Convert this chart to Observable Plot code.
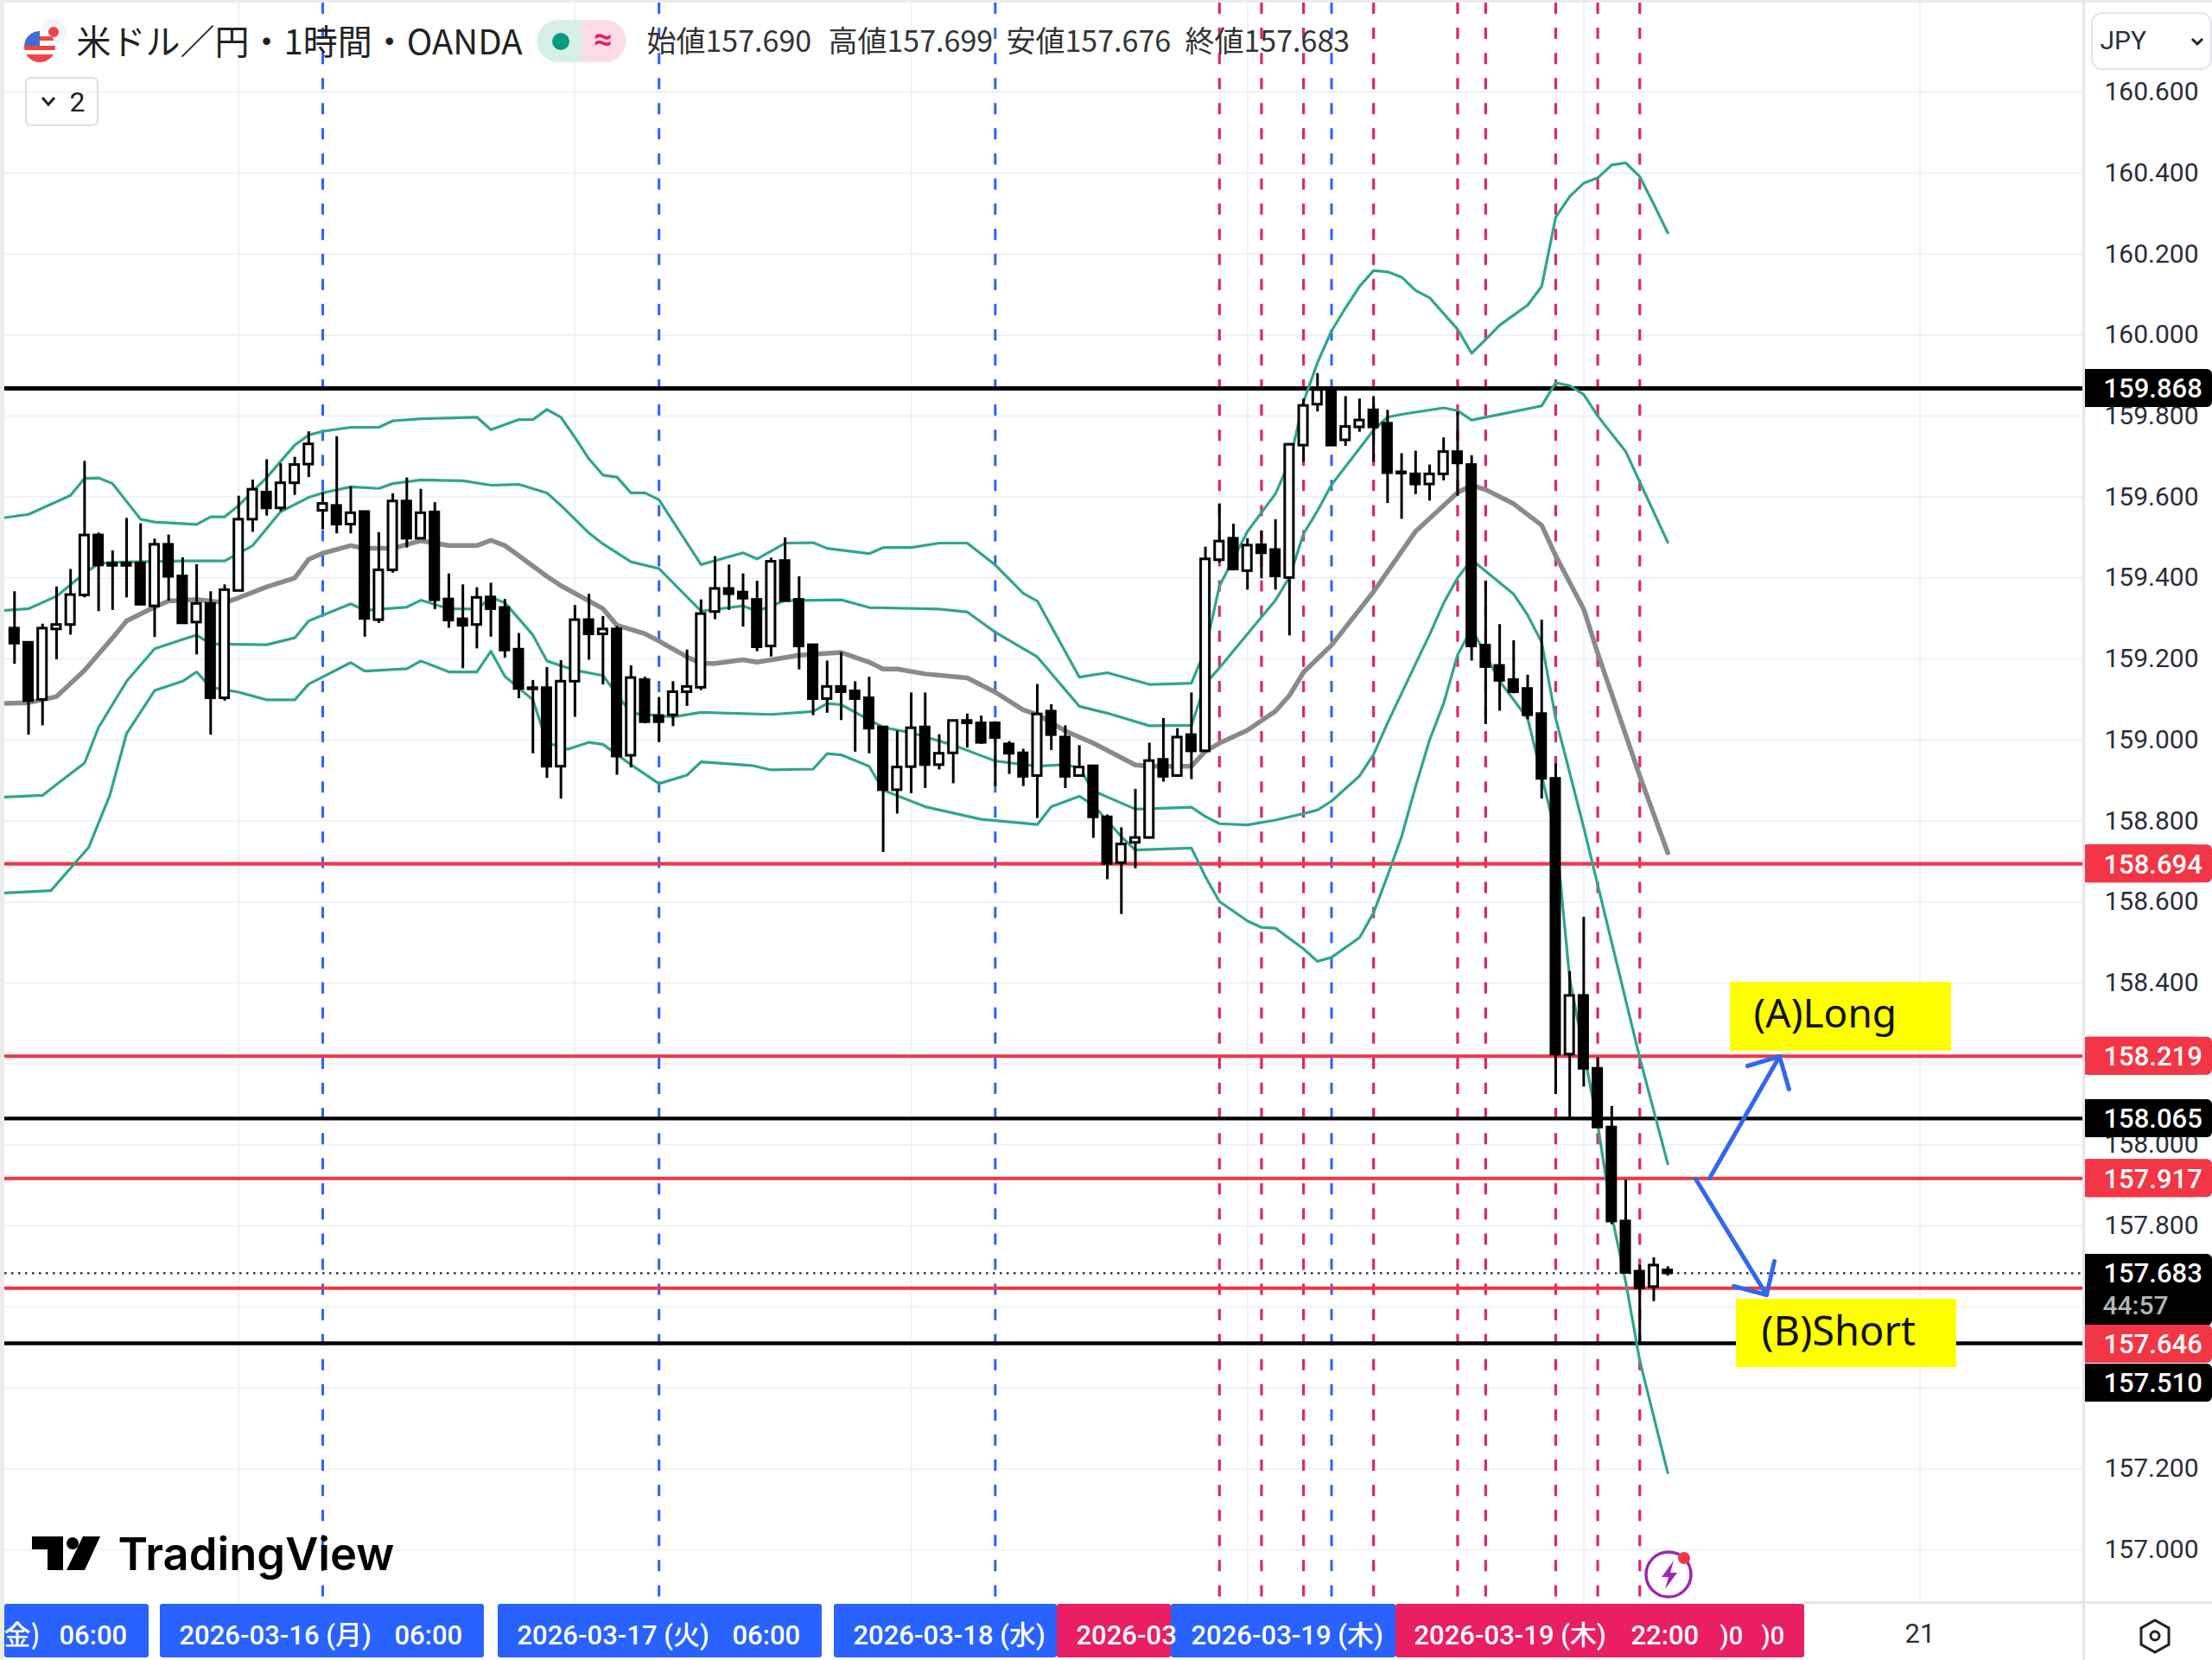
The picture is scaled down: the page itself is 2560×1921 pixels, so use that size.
<!DOCTYPE html>
<html lang="ja">
<head>
<meta charset="utf-8">
<title>米ドル／円 1時間 OANDA</title>
<script src="https://cdn.jsdelivr.net/npm/d3@7"></script>
<script src="https://cdn.jsdelivr.net/npm/@observablehq/plot@0.6"></script>
<style>
html,body{margin:0;padding:0;background:#fff}
svg{display:block}
</style>
</head>
<body>
<div id="chart"></div>
<script>
// ---------- candle values (1 hour) ----------
const open = [159.275,159.240,159.099,159.273,159.284,159.357,159.505,159.435,159.436,159.436,
159.330,159.482,159.404,159.290,159.336,159.103,159.368,159.544,159.611,159.572,
159.634,159.680,159.566,159.578,159.532,159.563,159.296,159.419,159.589,159.497,
159.562,159.347,159.298,159.284,159.352,159.326,159.223,159.128,159.128,158.934,
159.144,159.296,159.261,159.273,158.961,159.148,159.059,159.061,159.118,159.129,
159.316,159.373,159.364,159.346,159.231,159.442,159.346,159.234,159.101,159.131,
159.120,159.103,159.031,158.876,158.933,159.031,158.938,158.967,159.041,159.041,
159.041,158.989,158.967,158.911,159.070,159.006,158.911,158.935,158.809,158.696,
158.746,158.758,158.951,158.911,159.012,158.972,159.444,159.497,159.417,159.481,
159.469,159.400,159.727,159.828,159.866,159.740,159.772,159.814,159.781,159.661,
159.656,159.631,159.656,159.711,159.679,159.233,159.183,159.148,159.126,159.064,
158.904,158.223,158.368,158.188,158.043,157.811,157.687,157.649,157.690];
const close = [159.238,159.096,159.275,159.284,159.358,159.505,159.431,159.430,159.430,159.334,
159.482,159.403,159.288,159.336,159.103,159.370,159.544,159.618,159.572,159.634,
159.679,159.730,159.583,159.532,159.560,159.299,159.419,159.589,159.497,159.560,
159.345,159.295,159.282,159.351,159.323,159.221,159.126,159.125,158.934,159.144,
159.296,159.261,159.273,158.959,159.153,159.044,159.044,159.118,159.131,159.311,
159.373,159.360,159.349,159.229,159.440,159.343,159.231,159.101,159.131,159.118,
159.101,159.028,158.876,158.932,159.029,158.938,158.966,159.047,159.047,158.993,
159.005,158.966,158.909,159.063,159.012,158.909,158.932,158.809,158.694,158.742,
158.758,158.948,158.909,159.006,158.972,159.446,159.490,159.421,159.480,159.461,
159.404,159.729,159.825,159.864,159.727,159.773,159.789,159.772,159.659,159.658,
159.631,159.656,159.711,159.683,159.231,159.180,159.146,159.118,159.061,158.904,
158.223,158.368,158.188,158.043,157.811,157.684,157.646,157.702,157.683];
const high = [159.366,159.240,159.286,159.378,159.421,159.688,159.511,159.467,159.547,159.534,
159.496,159.506,159.450,159.433,159.366,159.383,159.602,159.642,159.692,159.682,
159.698,159.761,159.611,159.749,159.625,159.563,159.512,159.608,159.647,159.619,
159.586,159.410,159.383,159.376,159.387,159.347,159.263,159.147,159.179,159.196,
159.332,159.360,159.305,159.280,159.183,159.155,159.105,159.144,159.222,159.346,
159.453,159.432,159.410,159.392,159.449,159.499,159.403,159.234,159.195,159.216,
159.144,159.155,159.031,159.022,159.116,159.116,159.013,159.047,159.064,159.059,
159.045,158.996,158.977,159.137,159.087,159.035,158.986,158.935,158.815,158.783,
158.878,158.992,159.053,159.028,159.116,159.476,159.583,159.533,159.497,159.515,
159.544,159.732,159.842,159.905,159.866,159.848,159.842,159.848,159.814,159.707,
159.713,159.679,159.746,159.810,159.702,159.391,159.285,159.245,159.160,159.296,
158.941,158.428,158.562,158.215,158.095,157.913,157.703,157.721,157.699];
const low = [159.187,159.012,159.035,159.198,159.259,159.351,159.317,159.320,159.351,159.334,
159.253,159.343,159.288,159.210,159.012,159.096,159.368,159.513,159.553,159.564,
159.604,159.648,159.519,159.509,159.509,159.254,159.288,159.412,159.474,159.496,
159.322,159.276,159.176,159.225,159.254,159.202,159.102,158.966,158.905,158.854,
159.056,159.197,159.136,158.913,158.931,159.040,158.994,159.033,159.083,159.122,
159.297,159.320,159.279,159.218,159.205,159.343,159.173,159.060,159.066,159.048,
158.970,158.966,158.722,158.817,158.867,158.880,158.926,158.892,158.980,158.989,
158.885,158.915,158.885,158.806,158.974,158.880,158.909,158.757,158.655,158.569,
158.682,158.757,158.896,158.911,158.902,158.969,159.437,159.421,159.370,159.398,
159.370,159.257,159.686,159.810,159.727,159.725,159.760,159.686,159.584,159.545,
159.606,159.590,159.640,159.602,159.195,159.038,159.071,159.114,159.050,158.854,
158.125,158.061,158.143,158.043,157.803,157.681,157.511,157.613,157.676];

// ---------- band lines: vertices as candle number + price ----------
const upper2Bar = [-0.7,1,4,5,6,7,9,10,13,14,15,16,18,20,21,22,24,26,27,29,33,34,36,37,38,39,40,41,42,43,44,45,46,49,52,53,55,57,58,61,62,64,66,68,70,72,73,76,78,81,84,85,86,88,90,91,92,93,94,95,96,97,98,99,100,101,102,103,104,105,106,108,109,110,111,112,113,114,115,116,117,118];
const upper2 = [159.549,159.557,159.604,159.646,159.647,159.633,159.545,159.538,159.532,159.551,159.551,159.579,159.648,159.728,159.753,159.762,159.772,159.772,159.788,159.793,159.797,159.766,159.791,159.791,159.816,159.797,159.747,159.694,159.654,159.649,159.610,159.610,159.593,159.433,159.462,159.447,159.486,159.487,159.473,159.460,159.475,159.475,159.486,159.486,159.432,159.362,159.343,159.155,159.166,159.137,159.140,159.224,159.380,159.515,159.608,159.686,159.835,159.932,160.010,160.067,160.120,160.159,160.156,160.143,160.110,160.092,160.053,160.014,159.955,159.989,160.024,160.074,160.120,160.291,160.342,160.375,160.388,160.420,160.425,160.391,160.323,160.252];
const upper1Bar = [-0.7,1,3,5,6,7,12,15,17,19,21,22,24,26,27,29,32,34,36,38,39,41,42,44,46,49,52,53,55,59,61,66,68,70,73,76,78,81,84,85,86,90,91,92,93,94,97,98,99,102,103,104,109,110,111,112,113,115,116,118];
const upper1 = [159.320,159.324,159.355,159.412,159.435,159.439,159.442,159.442,159.480,159.564,159.599,159.610,159.625,159.621,159.633,159.642,159.640,159.629,159.631,159.610,159.579,159.511,159.484,159.440,159.423,159.318,159.331,159.318,159.344,159.346,159.327,159.323,159.316,159.266,159.205,159.083,159.066,159.035,159.036,159.139,159.178,159.345,159.402,159.509,159.566,159.630,159.765,159.797,159.804,159.820,159.813,159.790,159.825,159.882,159.875,159.853,159.800,159.712,159.637,159.488];
const middleBar = [-0.7,1,3,5,7,8,10,11,13,15,16,18,20,21,22,24,25,27,29,31,33,34,35,38,39,42,43,45,46,48,49,50,52,53,56,59,61,62,63,65,68,70,72,73,75,77,80,81,84,85,86,88,90,91,92,94,97,100,103,104,105,107,109,110,112,113,116,118];
const middle = [159.090,159.092,159.107,159.172,159.252,159.294,159.328,159.343,159.347,159.339,159.351,159.378,159.400,159.446,159.461,159.480,159.473,159.473,159.492,159.480,159.480,159.493,159.480,159.404,159.381,159.324,159.283,159.262,159.244,159.205,159.189,159.189,159.198,159.192,159.209,159.216,159.192,159.175,159.175,159.163,159.153,159.118,159.074,159.063,159.022,158.992,158.938,158.935,158.935,158.972,158.992,159.024,159.071,159.110,159.167,159.234,159.366,159.515,159.611,159.629,159.618,159.583,159.530,159.455,159.323,159.214,158.911,158.721];
const lower1Bar = [-0.7,2,3,5,6,8,10,12,13,14,18,20,21,24,25,28,29,31,33,34,35,37,38,40,42,44,47,49,54,57,58,59,62,64,67,70,73,75,76,77,80,84,85,86,88,90,92,93,94,96,97,98,100,101,102,103,104,107,108,109,110,112,113,116,118];
const lower1 = [158.859,158.863,158.890,158.943,159.031,159.145,159.225,159.248,159.259,159.237,159.235,159.252,159.294,159.336,159.320,159.328,159.345,159.324,159.323,159.352,159.339,159.259,159.195,159.172,159.159,159.066,159.057,159.068,159.063,159.070,159.090,159.087,159.031,159.018,158.987,158.948,158.935,158.939,158.931,158.874,158.829,158.834,158.811,158.793,158.790,158.802,158.818,158.827,158.849,158.911,158.964,159.042,159.188,159.260,159.338,159.400,159.445,159.360,159.308,159.241,159.053,158.784,158.642,158.215,157.953];
const lower2Bar = [-0.7,2.6,5.3,6.8,8,10,12,13,14,16,18,20,21,24,25,28,29,31,33,34,35,37,38,39.5,41,42,44,46,48,49,52.6,54,57,58,59,61,62,65,69,73,74,76,77,79,80,84,85,86,88,89,90,92,93,94,96,97,98,99,100,101,102,103,104,106,108,110,111,113,114,115,116,118];
const lower2 = [158.622,158.628,158.735,158.863,159.016,159.122,159.145,159.168,159.130,159.118,159.099,159.099,159.138,159.191,159.170,159.176,159.195,159.168,159.168,159.219,159.157,159.099,158.993,158.977,158.994,158.989,158.939,158.892,158.913,158.946,158.937,158.926,158.928,158.966,158.963,158.935,158.876,158.835,158.804,158.791,158.835,158.861,158.839,158.761,158.728,158.733,158.662,158.601,158.553,158.537,158.535,158.484,158.453,158.463,158.512,158.573,158.665,158.761,158.885,159.000,159.090,159.210,159.275,159.145,159.053,158.769,158.410,158.050,157.826,157.661,157.467,157.190];

// ---------- levels, session markers, ticks and labels ----------
const blackLevels = [159.868,158.065,157.510];
const redLevels = [158.694,158.219,157.917,157.646];
const lastPrice = 157.683;
const blueBars = [22,46,70,94];
const redBars = [86,89,92,97,103,105,110,113,116];
const dayBars = [16,40,64,88,112,136];
const priceTicks = [157,157.2,157.8,158,158.4,158.6,158.8,159,159.2,159.4,159.6,159.8,160,160.2,160.4,160.6];
const gridPrices = [157,157.2,157.4,157.6,157.8,158,158.2,158.4,158.6,158.8,159,159.2,159.4,159.6,159.8,160,160.2,160.4,160.6];
const headerOHLC = ["始値157.690","高値157.699","安値157.676","終値157.683"];
const timeLabels = ["2026-03-16 (月)","2026-03-17 (火)","2026-03-18 (水)","2026-03","2026-03-19 (木)","2026-03-19 (木)"];

// ---------- page geometry of the chart pane ----------
const W = 2560, H = 1921, paneR = 2410, paneB = 1855;
const bx = px => (px - 16.3) / 16.215;            // page x -> candle number
const pv = py => 160.6 - (py - 106) / 468.6;      // page y -> price
const num = "Roboto, 'Noto Sans CJK JP', sans-serif";
const jp = "'Noto Sans CJK JP', Roboto, sans-serif";

const candles = open.map((o, i) => ({i, o, c: close[i], h: high[i], l: low[i]}));
const series = (xs, ys) => xs.map((x, k) => ({x, y: ys[k]}));
const txt = (t, px, py, o = {}) => Plot.text([{t, x: bx(px), y: pv(py)}], {x: "x", y: "y", text: "t", fontFamily: num, fontSize: 30, fill: "#131722", textAnchor: "start", ...o});
const box = (l, t, r, b, o = {}) => Plot.rect([{x1: bx(l), x2: bx(r), y1: pv(t), y2: pv(b)}], {x1: "x1", x2: "x2", y1: "y1", y2: "y2", ...o});
const seg = (pts, o = {}) => Plot.line(pts.map(([x, y]) => ({x: bx(x), y: pv(y)})), {x: "x", y: "y", curve: "linear", ...o});
// a price tag is centred on its page row (two of them are pushed down to stay legible)
const tagBox = (top, bottom, fill) => Plot.marks(
  box(paneR + 2, top, W, bottom, {fill, rx: 6}),
  box(paneR + 2, top, W - 20, bottom, {fill})
);
const priceTag = (value, fill, row) => {
  const py = row ?? (106 + (160.6 - value) * 468.6);
  return Plot.marks(
    tagBox(py - 22, py + 22, fill),
    txt(value.toFixed(3), 2434, py + 1, {fill: "#fff", fontSize: 31, fontWeight: 500})
  );
};

const BLUE = "#2962ff", PINK = "#e91e63";
const bars = [
  {l: 5, r: 172, fill: BLUE}, {l: 185, r: 560, fill: BLUE}, {l: 576, r: 951, fill: BLUE}, {l: 965, r: 1223, fill: BLUE},
  {l: 1223, r: 1355, fill: PINK}, {l: 1355, r: 1615, fill: BLUE}, {l: 1615, r: 2088, fill: PINK}
];
const barLabel = (t, px, o = {}) => txt(t, px, 1893, {fill: "#fff", fontSize: 31, fontWeight: 500, ...o});

const GRID = "#eff1f5", TEAL = "#2fa58e", ARROW = "#3366f0";
const plot = Plot.plot({
  width: W, height: H,
  marginTop: 0, marginLeft: 0, marginRight: W - paneR, marginBottom: H - paneB,
  x: {domain: [bx(0), bx(paneR)], label: null},
  y: {domain: [pv(paneB), pv(0)], label: null},
  style: {fontFamily: num, background: "#fff"},
  marks: [
    // grid and price / time axes
    Plot.ruleY(gridPrices, {x1: () => bx(5), x2: () => bx(paneR), stroke: GRID, strokeWidth: 2}),
    Plot.ruleX(dayBars, {stroke: GRID, strokeWidth: 2}),
    Plot.axisY(priceTicks, {anchor: "right", tickSize: 0, tickPadding: 25, fontSize: 30, fill: "#2a2e39", fontFamily: num, tickFormat: d => d.toFixed(3), label: null}),
    Plot.axisX([136], {anchor: "bottom", tickSize: 0, tickPadding: 23, fontSize: 31, fill: "#2a2e39", fontFamily: num, tickFormat: () => "21", label: null}),

    // session markers
    Plot.ruleX(blueBars, {stroke: BLUE, strokeWidth: 3, strokeDasharray: "13,16.07", strokeDashoffset: 26.07}),
    Plot.ruleX(redBars, {stroke: "#e0266a", strokeWidth: 3.2, strokeDasharray: "13,16.07", strokeDashoffset: 26.07}),

    // levels
    Plot.ruleY(blackLevels, {x1: () => bx(5), x2: () => bx(paneR), stroke: "#000", strokeWidth: d => d === 159.868 ? 5 : 4.4}),
    Plot.ruleY(redLevels, {x1: () => bx(5), x2: () => bx(paneR), stroke: "#f23645", strokeWidth: 4.2}),
    Plot.ruleY([lastPrice], {x1: () => bx(5), x2: () => bx(paneR), stroke: "#222", strokeWidth: 2.4, strokeDasharray: "2.5,5.5"}),

    // bands
    Plot.line(series(upper2Bar, upper2), {x: "x", y: "y", stroke: TEAL, strokeWidth: 3.2}),
    Plot.line(series(upper1Bar, upper1), {x: "x", y: "y", stroke: TEAL, strokeWidth: 3.2}),
    Plot.line(series(lower1Bar, lower1), {x: "x", y: "y", stroke: TEAL, strokeWidth: 3.2}),
    Plot.line(series(lower2Bar, lower2), {x: "x", y: "y", stroke: TEAL, strokeWidth: 3.2}),
    Plot.line(series(middleBar, middle), {x: "x", y: "y", stroke: "#8a8a8a", strokeWidth: 5.5}),

    // candles
    Plot.ruleX(candles, {x: "i", y1: "l", y2: "h", stroke: "#000", strokeWidth: 3}),
    Plot.rect(candles.filter(d => d.c >= d.o), {x1: d => d.i - 0.31, x2: d => d.i + 0.31, y1: "o", y2: "c", fill: "#fff", stroke: "#000", strokeWidth: 3}),
    Plot.rect(candles.filter(d => d.c < d.o), {x1: d => d.i - 0.31, x2: d => d.i + 0.31, y1: "o", y2: "c", fill: "#000", stroke: "#000", strokeWidth: 3}),

    // yellow notes and arrows
    box(2002, 1136, 2258, 1216, {fill: "#ffff00"}),
    box(2009, 1503, 2264, 1582, {fill: "#ffff00"}),
    txt("(A)Long", 2029, 1174, {fontFamily: "'Noto Sans', sans-serif", fontSize: 46, fill: "#111"}),
    txt("(B)Short", 2038, 1541, {fontFamily: "'Noto Sans', sans-serif", fontSize: 47, fill: "#111"}),
    seg([[1978,1363],[2059,1222]], {stroke: ARROW, strokeWidth: 5}),
    seg([[2022,1233],[2059,1222],[2070,1260]], {stroke: ARROW, strokeWidth: 5}),
    seg([[1962,1364],[2044,1498]], {stroke: ARROW, strokeWidth: 5}),
    seg([[2006,1488],[2044,1498],[2053,1459]], {stroke: ARROW, strokeWidth: 5}),

    // price tags
    priceTag(159.868, "#000"),
    priceTag(158.694, "#f23645"),
    priceTag(158.219, "#f23645"),
    priceTag(158.065, "#000"),
    priceTag(157.917, "#f23645"),
    tagBox(1451, 1534, "#000"),
    txt(lastPrice.toFixed(3), 2434, 1474, {fill: "#fff", fontSize: 31, fontWeight: 500}),
    txt("44:57", 2433, 1511, {fill: "#b4b4b4", fontSize: 30, fontWeight: 500}),
    priceTag(157.646, "#f23645", 1555),
    priceTag(157.510, "#000", 1600),

    // time axis labels
    Plot.rect(bars, {x1: d => bx(d.l), x2: d => bx(d.r), y1: () => pv(1856), y2: () => pv(1918), fill: d => d.fill, rx: 3}),
    barLabel("金)", 4, {fontFamily: jp}),
    barLabel("06:00", 68),
    barLabel(timeLabels[0], 207),
    barLabel("06:00", 456),
    barLabel(timeLabels[1], 598),
    barLabel("06:00", 847),
    barLabel(timeLabels[2], 987),
    barLabel(timeLabels[3], 1245),
    barLabel(timeLabels[4], 1378),
    barLabel(timeLabels[5], 1636),
    barLabel("22:00", 1887),
    barLabel(")0", 1990, {fontSize: 29}),
    barLabel(")0", 2038, {fontSize: 29}),

    // header
    txt("米ドル／円・1時間・OANDA", 88, 50, {fontFamily: jp, fontSize: 40, fill: "#222"}),
    txt(headerOHLC[0], 748, 49, {fontFamily: jp, fontSize: 34, fill: "#333"}),
    txt(headerOHLC[1], 958, 49, {fontFamily: jp, fontSize: 34, fill: "#333"}),
    txt(headerOHLC[2], 1164, 49, {fontFamily: jp, fontSize: 34, fill: "#333"}),
    txt(headerOHLC[3], 1371, 49, {fontFamily: jp, fontSize: 34, fill: "#333"}),
    txt("2", 80, 118, {fontSize: 32, fill: "#222"}),
    txt("JPY", 2430, 47, {fontSize: 30, fill: "#2a2e39"}),
    txt("TradingView", 136, 1800, {fontFamily: "Inter, Roboto, sans-serif", fontSize: 52.5, fontWeight: 600, fill: "#000"})
  ]
});

// small interface furniture around the pane
const s = d3.select(plot);
const ui = s.append("g");
ui.append("rect").attr("width", W).attr("height", 3).attr("fill", "#ececec");
ui.append("rect").attr("x", paneR).attr("width", 3).attr("height", H).attr("fill", "#e4e6ea");
ui.append("rect").attr("x", 2088).attr("y", 1853).attr("width", W - 2088).attr("height", 3).attr("fill", "#e4e6ea");
ui.append("rect").attr("width", 5).attr("height", H).attr("fill", "#ececec");

// settings hexagon
ui.append("path").attr("d", "M2494 1875l16 9v19l-16 9l-16-9v-19z").attr("fill", "none").attr("stroke", "#222").attr("stroke-width", 3);
ui.append("circle").attr("cx", 2494).attr("cy", 1893).attr("r", 5).attr("fill", "none").attr("stroke", "#222").attr("stroke-width", 3);

// JPY selector and "2" button
ui.append("rect").attr("x", 2421).attr("y", 15).attr("width", 138).attr("height", 65).attr("rx", 12).attr("fill", "none").attr("stroke", "#e3e5ea").attr("stroke-width", 2);
ui.append("path").attr("d", "M2537 45l6 6l6-6").attr("fill", "none").attr("stroke", "#222").attr("stroke-width", 3);
ui.append("rect").attr("x", 30).attr("y", 90).attr("width", 83).attr("height", 55).attr("rx", 6).attr("fill", "none").attr("stroke", "#dcdfe5").attr("stroke-width", 2);
ui.append("path").attr("d", "M49 113l7 8l7-8").attr("fill", "none").attr("stroke", "#222").attr("stroke-width", 3);

// status pill
s.append("defs").append("clipPath").attr("id", "usflag").append("circle").attr("cx", 46).attr("cy", 54).attr("r", 18);
ui.append("path").attr("d", "M673 23h-27a24.5 24.5 0 0 0 0 49h27z").attr("fill", "#d8efe9");
ui.append("path").attr("d", "M673 23h27a24.5 24.5 0 0 1 0 49h-27z").attr("fill", "#fbdce6");
ui.append("circle").attr("cx", 649).attr("cy", 48).attr("r", 10).attr("fill", "#089981");
ui.append("text").attr("x", 698).attr("y", 58).attr("text-anchor", "middle").attr("font-size", 38).attr("font-weight", 700).attr("fill", PINK).text("≈");

// flags
ui.append("circle").attr("cx", 62).attr("cy", 37).attr("r", 15).attr("fill", "#f2f4f8");
ui.append("circle").attr("cx", 62).attr("cy", 37).attr("r", 6).attr("fill", "#ef4444");
const us = ui.append("g").attr("clip-path", "url(#usflag)");
us.append("rect").attr("x", 28).attr("y", 36).attr("width", 36).attr("height", 36).attr("fill", "#fff");
us.append("rect").attr("x", 28).attr("y", 42).attr("width", 36).attr("height", 5).attr("fill", "#ef4444");
us.append("rect").attr("x", 28).attr("y", 53).attr("width", 36).attr("height", 5).attr("fill", "#ef4444");
us.append("rect").attr("x", 28).attr("y", 63).attr("width", 36).attr("height", 10).attr("fill", "#ef4444");
us.append("rect").attr("x", 28).attr("y", 36).attr("width", 18).attr("height", 17).attr("fill", "#3b6fd4");

// TradingView logo
ui.append("path").attr("d", "M37 1778h36v39h-18v-24h-18z").attr("fill", "#000");
ui.append("circle").attr("cx", 84).attr("cy", 1786).attr("r", 7).attr("fill", "#000");
ui.append("path").attr("d", "M96 1778h20l-18 39h-21z").attr("fill", "#000");

// lightning badge
ui.append("circle").attr("cx", 1931).attr("cy", 1822).attr("r", 26).attr("fill", "#fff").attr("stroke", "#9c27b0").attr("stroke-width", 3.5);
ui.append("path").attr("d", "M1937 1806l-14 19h8l-4 14l14-19h-8z").attr("fill", "#9c27b0");
ui.append("circle").attr("cx", 1949).attr("cy", 1803).attr("r", 7).attr("fill", "#f23645");

document.getElementById("chart").appendChild(plot);
</script>
</body>
</html>
